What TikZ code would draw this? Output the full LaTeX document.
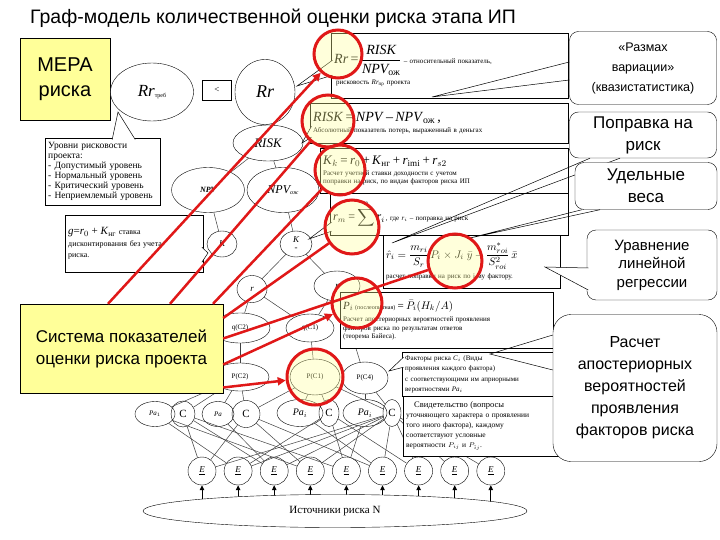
\documentclass[tikz,border=0pt]{standalone}
\usepackage{amsmath}
\usepackage{fontspec}
\setmainfont{Liberation Serif}
\setsansfont{Liberation Sans}
\usetikzlibrary{shapes.geometric,arrows.meta}
\definecolor{notefill}{HTML}{FFFF99}
\definecolor{redmark}{HTML}{E01818}

\begin{document}
\begin{tikzpicture}[x=1pt, y=-1pt,
        ell/.style={ellipse, draw, fill=white, inner sep=0pt, font=\fontsize{7}{8}\selectfont},
        ecirc/.style={circle, draw, fill=white, minimum size=28pt, inner sep=0pt, font=\fontsize{9}{10}\selectfont\itshape},
        link/.style={draw=black!75, line width=0.5pt},
        formbox/.style={rectangle, draw, fill=white, anchor=north west, align=left, inner sep=3pt, font=\fontsize{7}{8.5}\selectfont},
        callpt/.style={fill=white, draw=black, line width=0.5pt},
        calline/.style={draw=black, line width=0.5pt},
        bubble/.style={rectangle, rounded corners=9pt, draw, fill=white, align=center, font=\sffamily},
        notebox/.style={rectangle, draw, fill=notefill, align=center, font=\sffamily},
        redring/.style={circle, draw=redmark, line width=3pt, fill=notefill, fill opacity=0.35, inner sep=0pt},
        redline/.style={draw=redmark, line width=2.5pt},
        redarrow/.style={redline, -{Triangle[length=8pt,width=8pt]}},
        srcarrow/.style={-{Triangle[length=5pt,width=4.5pt]}, line width=1pt}
    ]
        \useasboundingbox (0,0) rectangle (720,540);
        \fill[white] (0,0) rectangle (720,540);

        \node[font=\sffamily\fontsize{19.5}{22}\selectfont] (title) at (273,18) {Граф-модель количественной оценки риска этапа ИП};
        \node[notebox, minimum width=90pt, minimum height=82pt, font=\sffamily\fontsize{20}{25}\selectfont] (mera) at (65,79) {МЕРА\\риска};

        \node[ell, minimum width=83pt, minimum height=58pt, font=\fontsize{17}{20}\selectfont\itshape] (rrtreb) at (152,92) {Rr\raisebox{-1pt}{\fontsize{6}{6}\selectfont\upshape треб}};
        \node[draw, fill=white, minimum width=29pt, minimum height=20pt, inner sep=0pt, font=\fontsize{9}{10}\selectfont] (less) at (217,90) {<};
        \node[ell, minimum width=60pt, minimum height=65pt, font=\fontsize{18}{20}\selectfont\itshape] (rr) at (265,92) {Rr};
        \node[ell, minimum width=70pt, minimum height=36pt, font=\fontsize{13}{15}\selectfont\itshape] (risk) at (268,143) {RISK};
        \node[ell, minimum width=73pt, minimum height=45pt, font=\fontsize{8}{9}\selectfont\itshape\bfseries] (npv) at (208,190) {NPV};
        \node[ell, minimum width=72pt, minimum height=45pt, font=\fontsize{12}{14}\selectfont\itshape] (npvoj) at (283,190) {NPV\raisebox{-1pt}{\fontsize{6}{6}\selectfont ож}};
        \node[ell, minimum width=30pt, minimum height=26pt, font=\fontsize{9}{10}\selectfont\itshape] (kl) at (222,244) {K};
        \node[ell, minimum width=32pt, minimum height=26pt, align=center, font=\fontsize{9}{8}\selectfont\itshape] (kr) at (296,244) {K\\-};
        \node[ell, minimum width=30pt, minimum height=27pt, font=\fontsize{9}{10}\selectfont\itshape] (rnode) at (252,289) {r};
        \node[ell, minimum width=46pt, minimum height=30pt, font=\fontsize{9}{10}\selectfont\itshape] (ri) at (337,286) {r};
        \node[ell, minimum width=60pt, minimum height=30pt] (qc2) at (240,328) {q(C2)};
        \node[ell, minimum width=48pt, minimum height=28pt] (qc1) at (310,328) {q(C1)};
        \node[ell, minimum width=58pt, minimum height=28pt] (pc2) at (240,377) {P(C2)};
        \node[ell, minimum width=50pt, minimum height=36pt] (pc1) at (315,377) {P(C1)};
        \node[ell, minimum width=46pt, minimum height=32pt] (pc4) at (365,378) {P(C4)};

        \node[ell, minimum width=40pt, minimum height=25pt, font=\fontsize{7}{8}\selectfont\itshape] (pa1) at (155,414) {Pa$_1$};
        \node[ell, fill=none, minimum width=24pt, minimum height=26pt, font=\fontsize{11}{12}\selectfont] (c1) at (183,414) {C};
        \node[ell, minimum width=32pt, minimum height=25pt, font=\fontsize{7}{8}\selectfont\itshape] (pa2) at (218,414) {Pa};
        \node[ell, fill=none, minimum width=28pt, minimum height=27pt, font=\fontsize{11}{12}\selectfont] (c2) at (246,414) {C};
        \node[ell, minimum width=46pt, minimum height=27pt, font=\fontsize{10}{11}\selectfont\itshape] (pa3) at (300,413) {Pa$_i$};
        \node[ell, fill=none, minimum width=20pt, minimum height=27pt, font=\fontsize{11}{12}\selectfont] (c3) at (329,413) {C};
        \node[ell, minimum width=44pt, minimum height=27pt, font=\fontsize{10}{11}\selectfont\itshape] (pa4) at (365,413) {Pa$_i$};
        \node[ell, fill=none, minimum width=18pt, minimum height=27pt, font=\fontsize{11}{12}\selectfont] (c4) at (392,413) {C};

        \foreach \i in {1,...,9}
            \node[ecirc] (e\i) at ({165.9+36.1*\i},471) {\underline{E}};
        \coordinate (srcmid) at (335,511);
        \foreach \i in {1,...,9}
            \draw[srcarrow] (e\i |- srcmid) -- (e\i);
        \node[ell, minimum width=384pt, minimum height=33pt, font=\fontsize{11}{12}\selectfont] (src) at (srcmid) {Источники риска N};

        \foreach \a/\b in {rr/risk, risk/npv, risk/npvoj, npv/kl, npvoj/kr, kr/rnode, kr/ri, rnode/qc2, rnode/qc1, ri/qc1, qc1/pc1, qc2/pc2, ri/pc4,
                pc2/pa1, pc2/c1, pc2/pa2, pc2/c2, pc1/pa3, pc1/c3, pc1/c2, pc4/pa4, pc4/c4, pc1/c4,
                c1/e1, c1/e3, c1/e5, pa1/e2, pa1/e4, c2/e1, c2/e4, c2/e6, pa2/e3, c3/e2, c3/e5, c3/e7, pa3/e6,
                c4/e1, c4/e2, c4/e3, c4/e4, c4/e6, c4/e7, c4/e8, c4/e9, pa4/e5}
            \draw[link] (\a) -- (\b);

        \node[formbox, text width=109pt, minimum height=67pt, font=\fontsize{9.5}{10}\selectfont] (levels) at (45,138) {Уровни рисковости\\проекта:\\- Допустимый уровень\\- Нормальный уровень\\- Критический уровень\\- Неприемлемый уровень};
        \coordinate (tiplev) at (118,112);
        \filldraw[callpt] ([xshift=9.5pt,yshift=-1.5pt]levels.north) -- (tiplev) -- ([xshift=32.5pt,yshift=-1.5pt]levels.north);

        \node[formbox, text width=132pt, minimum height=57pt, font=\fontsize{8}{11.5}\selectfont] (gbox) at (65,215) {{\fontsize{11}{12}\selectfont\textit{g}=\textit{r}$_0$ + \textit{K}$_{\text{нг}}$} ставка\\дисконтирования без учета\\риска.};
        \coordinate (tipg) at (208,253);
        \filldraw[callpt] ([xshift=-1.5pt,yshift=-3.5pt]gbox.east) -- (tipg) -- ([xshift=-1.5pt,yshift=-18.5pt]gbox.east);

        \node[formbox, text width=231pt, minimum height=65pt] (fbrr) at (331,33) {{\fontsize{14}{16}\selectfont\textit{Rr} = $\dfrac{\textit{RISK}}{\textit{NPV}_{\text{ож}}}$}~– относительный показатель,\\[3pt]\hspace*{2pt}рисковость \textit{Rr}$_{\text{пр}}$ проекта};
        \coordinate (tiprr) at (297,86);
        \filldraw[callpt] ([xshift=1.5pt,yshift=5.5pt]fbrr.west) -- (tiprr) -- ([xshift=1.5pt,yshift=-9.5pt]fbrr.west);

        \node[formbox, text width=252pt, minimum height=40pt] (fbrisk) at (310,103) {{\fontsize{14}{16}\selectfont\textit{RISK} = \textit{NPV} – \textit{NPV}$_{\text{ож}}$ ,}\\[3pt]Абсолютный показатель потерь, выраженный в деньгах};
        \coordinate (tiprisk) at (302,143);
        \filldraw[callpt] ([xshift=1.5pt,yshift=-3pt]fbrisk.west) -- (tiprisk) -- ([xshift=1.5pt,yshift=-14pt]fbrisk.west);

        \node[formbox, text width=242pt, minimum height=45pt] (fbk) at (320,148) {{\fontsize{13}{15}\selectfont\textit{K}$_k$ = \textit{r}$_0$ + \textit{K}$_{\text{нг}}$ + \textit{r}$_{\text{imi}}$ + \textit{r}$_{s2}$}\\[2pt]Расчет учетной ставки доходности с учетом\\поправки на риск, по видам факторов риска ИП};

        \node[formbox, text width=232pt, minimum height=42pt] (fbrm) at (330,193) {{\fontsize{12}{14}\selectfont\textit{r}$_m$ = $\displaystyle\sum^{n}$\,\textit{r}$_i$}\,, где \textit{r}$_i$ – поправка на риск};
        \coordinate (tipkr) at (309,239);
        \filldraw[callpt] ([xshift=1.5pt,yshift=-8pt]fbrm.west) -- (tipkr) -- ([xshift=1.5pt,yshift=-17pt]fbrm.west);

        \node[formbox, text width=171pt, minimum height=53pt] (fbri) at (383,235) {{\fontsize{11}{13}\selectfont$\hat r_i = \dfrac{m_{ri}}{S_r}\,P_i\times J_i\;\bar y - \dfrac{m^{*}_{roi}}{S^{2}_{roi}}\,\bar x$}\\[4pt]расчет поправки на риск по i-му фактору.};

        \node[formbox, text width=207pt, minimum height=56pt] (fbp) at (340,292) {{\fontsize{11}{13}\selectfont\textit{P}$_i$\,{\fontsize{6}{7}\selectfont(послеопытная)} = $\bar P_i(H_k/A)$}\\[4pt]Расчет апостериорных вероятностей проявления\\факторов риска по результатам ответов\\(теорема Байеса).};

        \node[formbox, text width=145pt, minimum height=44pt, font=\fontsize{7}{10.5}\selectfont] (fbg) at (402,352) {Факторы риска \textit{C}$_i$ (Виды\\проявления каждого фактора)\\с соответствующими им априорными\\вероятностями \textit{Pa}$_i$};
        \coordinate (tippc) at (389,371);
        \filldraw[callpt] ([xshift=1.5pt,yshift=17pt]fbg.west) -- (tippc) -- ([xshift=1.5pt,yshift=7pt]fbg.west);

        \node[formbox, text width=149pt, minimum height=60pt, font=\fontsize{7.5}{10}\selectfont] (fbh) at (403,396) {\hspace*{8pt}{\fontsize{8.5}{10}\selectfont Свидетельство (вопросы}\\уточняющего характера о проявлении\\того иного фактора), каждому\\соответствуют условные\\вероятности $P_{ij}$ и $P_{\bar{i}j}$.};

        \node[bubble, minimum width=147pt, minimum height=73pt, font=\sffamily\fontsize{12.5}{20}\selectfont] (bubspan) at (643,68) {«Размах\\вариации»\\(квазистатистика)};
        \coordinate (tipspan) at (432,97);
        \draw[calline] ([yshift=6pt]bubspan.west) -- (tipspan) -- ([yshift=-12pt]bubspan.west);

        \node[bubble, minimum width=147pt, minimum height=46pt, font=\sffamily\fontsize{17}{22}\selectfont] (bubadj) at (643,135) {Поправка на\\риск};
        \coordinate (tipadj) at (392,243);
        \draw[calline] ([xshift=-53pt]bubadj.south) -- (tipadj) -- ([xshift=-23pt]bubadj.south);

        \node[bubble, minimum width=142pt, minimum height=47pt, font=\sffamily\fontsize{17}{22}\selectfont] (bubwt) at (646,186) {Удельные\\веса};
        \coordinate (tipwt) at (470,238);
        \draw[calline] ([xshift=-64pt]bubwt.south) -- (tipwt) -- ([xshift=-46pt]bubwt.south);

        \node[bubble, minimum width=130pt, minimum height=70pt, font=\sffamily\fontsize{15}{18.5}\selectfont] (bubreg) at (652,265) {Уравнение\\линейной\\регрессии};
        \coordinate (tipreg) at (545,267);
        \filldraw[callpt] ([xshift=1.5pt,yshift=-3pt]bubreg.west) -- (tipreg) -- ([xshift=1.5pt,yshift=-25pt]bubreg.west);

        \node[bubble, rounded corners=18pt, minimum width=164pt, minimum height=147pt, font=\sffamily\fontsize{16}{22}\selectfont] (bubpost) at (635,388) {Расчет\\апостериорных\\вероятностей\\проявления\\факторов риска};
        \coordinate (tippost) at (490,354);
        \draw[calline] ([yshift=53pt]bubpost.west) -- (tippost) -- ([yshift=18pt]bubpost.west);

        \node[notebox, minimum width=203pt, minimum height=89pt, font=\sffamily\fontsize{17}{22}\selectfont] (sys) at (121.5,348.5) {Система показателей\\оценки риска проекта};

        \node[redring, minimum size=48pt] (ringrr) at (338,54) {};
        \node[redring, minimum size=52pt] (ringrisk) at (328,121) {};
        \node[redring, minimum size=50pt] (ringk) at (340,170) {};
        \node[redring, minimum size=54pt] (ringrm) at (352,227) {};
        \node[redring, minimum size=54pt] (ringri) at (455,261) {};
        \node[redring, minimum size=50pt] (ringp) at (357,303) {};
        \node[redring, minimum size=56pt] (ringpc) at (315,377) {};

        \draw[redarrow] ([xshift=-13.5pt]sys.north) -- (ringrr);
        \draw[redline] ([xshift=48.5pt]sys.north) -- (ringrisk);
        \draw[redline] ([xshift=91.5pt]sys.north) -- (ringk);
        \draw[redline] ([yshift=30.5pt]sys.east) -- (ringrm);
        \draw[redline] ([yshift=10pt]sys.east) -- (ringri);
        \draw[redarrow] ([yshift=-16pt]sys.east) -- (ringp);
        \draw[redarrow] ([yshift=-39pt]sys.east) -- (ringpc);
    \end{tikzpicture}
\end{document}
